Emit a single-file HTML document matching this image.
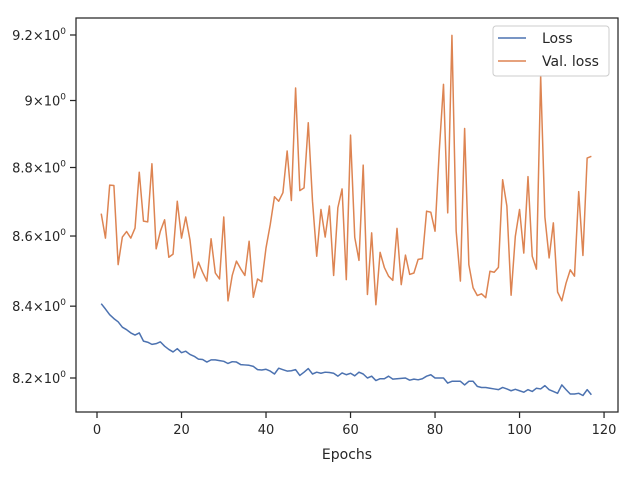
<!DOCTYPE html>
<html><head><meta charset="utf-8"><style>
body{margin:0;background:#fff;}
svg text{font-family:"DejaVu Sans","Liberation Sans",sans-serif;fill:#262626;}
</style></head><body>
<svg id="chart" width="640" height="480" xmlns="http://www.w3.org/2000/svg">
<g id="axes"></g>
</svg>
<script>
const lossValues=[8.407,8.392,8.376,8.365,8.356,8.341,8.334,8.325,8.319,8.325,8.302,8.299,8.293,8.295,8.300,8.288,8.279,8.272,8.281,8.270,8.274,8.265,8.260,8.252,8.251,8.244,8.250,8.250,8.248,8.246,8.240,8.245,8.244,8.237,8.236,8.235,8.232,8.223,8.222,8.224,8.219,8.211,8.227,8.223,8.219,8.220,8.223,8.207,8.216,8.226,8.211,8.216,8.213,8.216,8.215,8.213,8.205,8.214,8.209,8.213,8.206,8.216,8.211,8.200,8.205,8.193,8.198,8.198,8.205,8.197,8.198,8.199,8.200,8.194,8.197,8.195,8.198,8.205,8.209,8.200,8.200,8.200,8.186,8.191,8.191,8.191,8.181,8.191,8.191,8.177,8.174,8.174,8.172,8.170,8.168,8.174,8.170,8.165,8.169,8.165,8.161,8.168,8.163,8.172,8.170,8.179,8.168,8.163,8.158,8.181,8.168,8.156,8.156,8.158,8.152,8.168,8.154];
const valLossValues=[8.665,8.594,8.748,8.747,8.518,8.597,8.613,8.594,8.623,8.786,8.643,8.641,8.811,8.563,8.614,8.647,8.539,8.548,8.701,8.594,8.655,8.589,8.480,8.525,8.496,8.471,8.592,8.494,8.477,8.655,8.415,8.487,8.528,8.506,8.487,8.585,8.425,8.477,8.469,8.566,8.633,8.714,8.701,8.726,8.849,8.703,9.038,8.732,8.740,8.933,8.701,8.542,8.677,8.597,8.687,8.487,8.682,8.737,8.475,8.896,8.596,8.530,8.807,8.433,8.609,8.404,8.553,8.510,8.485,8.473,8.622,8.461,8.545,8.490,8.494,8.533,8.535,8.672,8.669,8.614,8.849,9.049,8.667,9.199,8.614,8.471,8.916,8.518,8.452,8.430,8.435,8.424,8.499,8.496,8.510,8.764,8.687,8.431,8.599,8.677,8.551,8.773,8.542,8.505,9.074,8.655,8.537,8.638,8.440,8.415,8.465,8.503,8.485,8.729,8.544,8.828,8.833];
const xTicks=[0,20,40,60,80,100,120];
const yTicks=[8.2,8.4,8.6,8.8,9.0,9.2];
const yTickLabels=["8.2","8.4","8.6","8.8","9","9.2"];
const seriesNames=["Loss","Val. loss"];

const L=76,R=618,T=18,B=412;
const xMin=-4.97,xMax=123.3,yMin=8.107,yMax=9.2526;
const xs=v=>L+(v-xMin)/(xMax-xMin)*(R-L);
const ys=v=>B-(Math.log(v)-Math.log(yMin))/(Math.log(yMax)-Math.log(yMin))*(B-T);
const NS="http://www.w3.org/2000/svg";
const g=document.getElementById('axes');
function mk(tag,attrs,parent){const e=document.createElementNS(NS,tag);for(const k in attrs)e.setAttribute(k,attrs[k]);(parent||g).appendChild(e);return e;}

const colors=["#4c72b0","#dd8452"];
[lossValues,valLossValues].forEach((arr,si)=>{
  const d=arr.map((v,i)=>(i?"L":"M")+xs(i+1).toFixed(2)+","+ys(v).toFixed(2)).join("");
  const p=mk('path',{d:d,fill:"none",stroke:colors[si],"stroke-width":1.5,"stroke-linejoin":"round"});
  
  
});

const frame=mk('rect',{x:L,y:T,width:R-L,height:B-T,fill:"none",stroke:"#262626","stroke-width":1.25});



xTicks.forEach(t=>{
  const x=xs(t);
  const tk=mk('line',{x1:x,x2:x,y1:B,y2:B+6,stroke:"#262626","stroke-width":1.25});
  
  
  const tx=mk('text',{x:x,y:B+22,"text-anchor":"middle","font-size":"13"});
  tx.textContent=t;
  
  
});
yTicks.forEach((t,i)=>{
  const y=ys(t);
  const tk=mk('line',{x1:L-6,x2:L,y1:y,y2:y,stroke:"#262626","stroke-width":1.25});
  
  
  const tx=mk('text',{x:L-10,y:y+5,"text-anchor":"end","font-size":"13"});
  tx.textContent=yTickLabels[i]+"\u00d710";
  const sup=mk('tspan',{dy:"-6","font-size":"9"},tx);
  sup.textContent="0";
  
  
});
const xt=mk('text',{x:(L+R)/2,y:459,"text-anchor":"middle","font-size":"14"});
xt.textContent="Epochs";



const lg=mk('g',{});


mk('rect',{x:493,y:26,width:116,height:50,rx:3,fill:"#fff","fill-opacity":0.8,stroke:"#ccc"},lg);
seriesNames.forEach((n,i)=>{
  const y=38+i*23;
  const ln=mk('line',{x1:498,x2:526,y1:y,y2:y,stroke:colors[i],"stroke-width":1.5},lg);
  
  
  const tx=mk('text',{x:542,y:y+5,"font-size":"14"},lg);
  tx.textContent=n;
  
  
});
</script>
</body></html>
